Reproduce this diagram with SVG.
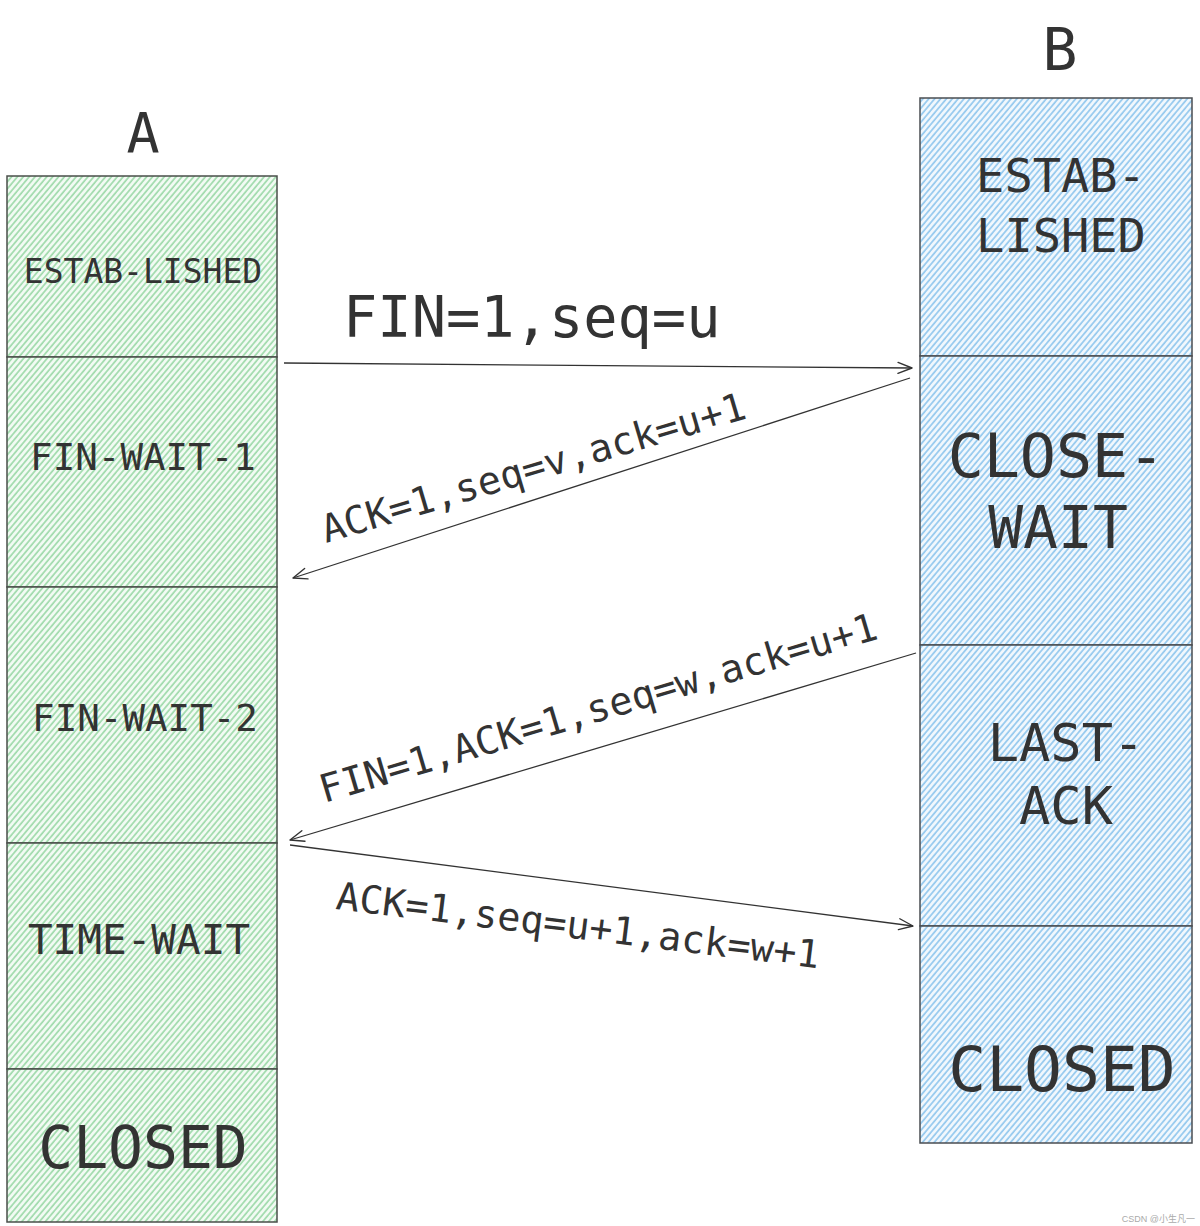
<svg xmlns="http://www.w3.org/2000/svg" width="1200" height="1226" viewBox="0 0 1200 1226">
  <defs>
    <pattern id="hg" width="4.5" height="4.5" patternUnits="userSpaceOnUse" patternTransform="rotate(40)">
      <rect width="4.5" height="4.5" fill="#f3fbf4"/>
      <line x1="1" y1="0" x2="1" y2="4.5" stroke="#9fdaab" stroke-width="1.7"/>
    </pattern>
    <pattern id="hb" width="4.5" height="4.5" patternUnits="userSpaceOnUse" patternTransform="rotate(40)">
      <rect width="4.5" height="4.5" fill="#f2f8fd"/>
      <line x1="1" y1="0" x2="1" y2="4.5" stroke="#93c8ee" stroke-width="1.7"/>
    </pattern>
    <marker id="arr" markerWidth="18" markerHeight="14" refX="16" refY="7" orient="auto" markerUnits="userSpaceOnUse">
      <path d="M2,1.5 L16,7 L2,12.5" fill="none" stroke="#333" stroke-width="1.4" stroke-linecap="round" stroke-linejoin="round"/>
    </marker>
  </defs>
  <style>
    text { font-family: "DejaVu Sans Mono", "Liberation Mono", monospace; fill: #333; }
    .cg { fill: url(#hg); stroke: #4a4f4a; stroke-width: 1.5; }
    .cb { fill: url(#hb); stroke: #4a4d52; stroke-width: 1.5; }
    .mid { text-anchor: middle; }
    .conn { stroke: #333; stroke-width: 1.3; fill: none; }
    .lbl { font-size: 38.5px; }
  </style>

  <g id="title-A"><text class="mid" x="143" y="152" font-size="55">A</text></g>
  <g id="title-B"><text class="mid" x="1060" y="70" font-size="58">B</text></g>

  <g id="A-established">
    <rect class="cg" x="7" y="176" width="270" height="181"/>
    <text class="mid" x="143" y="283" font-size="33">ESTAB-LISHED</text>
  </g>
  <g id="A-fin-wait-1">
    <rect class="cg" x="7" y="357" width="270" height="230"/>
    <text class="mid" x="143" y="470" font-size="37.5">FIN-WAIT-1</text>
  </g>
  <g id="A-fin-wait-2">
    <rect class="cg" x="7" y="587" width="270" height="256"/>
    <text class="mid" x="145" y="731" font-size="37.5">FIN-WAIT-2</text>
  </g>
  <g id="A-time-wait">
    <rect class="cg" x="7" y="843" width="270" height="226"/>
    <text class="mid" x="139" y="954" font-size="41">TIME-WAIT</text>
  </g>
  <g id="A-closed">
    <rect class="cg" x="7" y="1069" width="270" height="153"/>
    <text class="mid" x="143" y="1168" font-size="58">CLOSED</text>
  </g>

  <g id="B-established">
    <rect class="cb" x="920" y="98" width="272" height="258"/>
    <text class="mid" x="1061" y="192" font-size="47">ESTAB-</text>
    <text class="mid" x="1061" y="252" font-size="47">LISHED</text>
  </g>
  <g id="B-close-wait">
    <rect class="cb" x="920" y="356" width="272" height="289"/>
    <text class="mid" x="1056" y="477" font-size="60">CLOSE-</text>
    <text class="mid" x="1058" y="548" font-size="58">WAIT</text>
  </g>
  <g id="B-last-ack">
    <rect class="cb" x="920" y="645" width="272" height="281"/>
    <text class="mid" x="1066" y="761" font-size="52">LAST-</text>
    <text class="mid" x="1066" y="824" font-size="52">ACK</text>
  </g>
  <g id="B-closed">
    <rect class="cb" x="920" y="926" width="272" height="217"/>
    <text class="mid" x="1062" y="1091" font-size="63">CLOSED</text>
  </g>

  <g id="connectors">
    <line class="conn" x1="284" y1="363" x2="912" y2="368" marker-end="url(#arr)"/>
    <line class="conn" x1="910" y1="378" x2="293" y2="578" marker-end="url(#arr)"/>
    <line class="conn" x1="916" y1="653" x2="290" y2="840" marker-end="url(#arr)"/>
    <line class="conn" x1="290" y1="845" x2="913" y2="926" marker-end="url(#arr)"/>
  </g>

  <g id="labels">
    <text x="343" y="337" font-size="57">FIN=1,seq=u</text>
    <text class="lbl" transform="translate(326,543) rotate(-16.5)">ACK=1,seq=v,ack=u+1</text>
    <text class="lbl" transform="translate(324,803) rotate(-16.5)">FIN=1,ACK=1,seq=w,ack=u+1</text>
    <text class="lbl" transform="translate(335,909) rotate(7)">ACK=1,seq=u+1,ack=w+1</text>
  </g>

  <text x="1195" y="1222" font-size="9" text-anchor="end" style="fill:#aaa;font-family:'Liberation Sans','Noto Sans CJK SC',sans-serif">CSDN @小生凡一</text>
</svg>
